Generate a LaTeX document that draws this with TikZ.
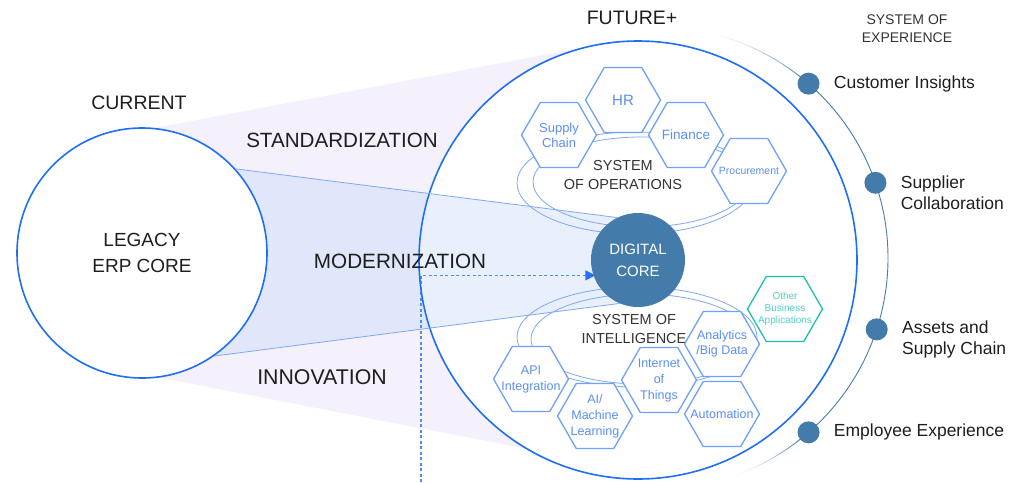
\documentclass[tikz,border=0pt]{standalone}
\usepackage{fontspec}
\setmainfont{Liberation Sans}
\usetikzlibrary{shapes.geometric,positioning,arrows.meta,backgrounds,calc}
\definecolor{ringblue}{HTML}{1F6FF5}
\definecolor{lineblue}{HTML}{7EA8F8}
\definecolor{hexblue}{HTML}{6FA1FA}
\definecolor{hextext}{HTML}{5B8EF3}
\definecolor{tealline}{HTML}{1FBFAE}
\definecolor{tealtext}{HTML}{4FD2C2}
\definecolor{coreblue}{HTML}{437BAA}
\definecolor{arcblue}{HTML}{4A7AA6}
\definecolor{lavender}{HTML}{F4F0FC}
\definecolor{bandblue}{HTML}{C6DAFA}
\definecolor{dashblue}{HTML}{4F8BF3}
\definecolor{tipblue}{HTML}{2A6FF2}
\definecolor{inkblack}{HTML}{1E1E1E}
\definecolor{inkgray}{HTML}{333333}
\tikzset{
  bigring/.style={circle,draw=ringblue,line width=1.6pt,inner sep=0pt},
  hexa/.style={regular polygon,regular polygon sides=6,minimum size=75pt,inner sep=0pt,draw=hexblue,fill=white,line width=1.3pt},
  hexlabel/.style={text=hextext,align=center,inner sep=0pt},
  ring/.style={draw=lineblue,line width=0.8pt},
  bandline/.style={draw=lineblue,line width=0.8pt},
  exparc/.style={draw=arcblue,line width=0.9pt},
  expdot/.style={circle,fill=coreblue,minimum size=22pt,inner sep=0pt},
  explabel/.style={text=inkblack,align=left,inner sep=0pt,font=\fontsize{17.5}{21}\selectfont},
  phase/.style={text=inkblack,align=center,font=\fontsize{19.5}{26}\selectfont},
  sys/.style={text=inkgray,align=center,font=\fontsize{14.5}{18.5}\selectfont},
  dashline/.style={draw=dashblue,line width=1.3pt,dash pattern=on 3pt off 2.5pt,-{Triangle[length=10pt,width=10pt,color=tipblue]},shorten >=-2pt}
}
\begin{document}
\begin{tikzpicture}[x=1pt,y=-1pt]
\useasboundingbox (0,0) rectangle (1025,482);
\coordinate (expc) at (657,258);
\coordinate (dashfoot) at (421,482);
\node[bigring,minimum size=438pt] (future) at (638,260) {};
\node[bigring,fill=white,minimum size=250pt,phase,font=\fontsize{19}{26}\selectfont] (legacy) at (142,253) {LEGACY\\ERP CORE};
\draw[ring] (635,183) ellipse[x radius=118,y radius=51];
\draw[ring] (641,182) ellipse[x radius=108,y radius=45];
\draw[ring] (637,337) ellipse[x radius=120,y radius=50];
\draw[ring] (641,339) ellipse[x radius=110,y radius=45];
\node[circle,fill=coreblue,minimum size=94pt,inner sep=0pt,text=white,align=center,font=\fontsize{15}{22}\selectfont] (core) at (638,260) {DIGITAL\\CORE};
\draw[bandline] (legacy.42) -- (core.116);
\draw[bandline] (legacy.-55) -- (core.247);
\begin{pgfonlayer}{background}
\fill[lavender] (legacy.84) -- (future.106) -- (future.center) -- (future.-121) -- (legacy.-82) -- cycle;
\fill[white] (future.center) circle[radius=219];
\fill[bandblue,opacity=0.4] (legacy.center) -- (legacy.42) -- (core.116) -- (core.center) -- (core.247) -- (legacy.-55) -- cycle;
\draw[dashline] (dashfoot) |- (core.199);
\end{pgfonlayer}
\node[sys] (sysops) at (623,175) {SYSTEM\\OF OPERATIONS};
\node[sys] (sysint) at (634,329) {SYSTEM OF\\INTELLIGENCE};
\node[sys,font=\fontsize{14}{18}\selectfont] (sysexp) at (907,29) {SYSTEM OF\\EXPERIENCE};
\node[hexa,label={[hexlabel,font=\fontsize{13}{15}\selectfont]center:{Supply\\Chain}}] (supply) at (559,135) {};
\node[hexa,label={[hexlabel,font=\fontsize{15}{18}\selectfont]center:HR}] (hr) at (623,100) {};
\node[hexa,label={[hexlabel,font=\fontsize{13.5}{16}\selectfont]center:Finance}] (finance) at (686,135) {};
\node[hexa,label={[hexlabel,font=\fontsize{10.5}{13}\selectfont]center:Procurement}] (procure) at (749,171) {};
\node[hexa,draw=tealline,label={[hexlabel,text=tealtext,font=\fontsize{10}{12}\selectfont]center:{Other\\Business\\Applications}}] (other) at (785,309) {};
\node[hexa,label={[hexlabel,font=\fontsize{12.5}{15.5}\selectfont]center:{Analytics\\/Big Data}}] (analytics) at (722,344) {};
\node[hexa,label={[hexlabel,font=\fontsize{12.5}{16}\selectfont]center:{Internet\\of\\Things}}] (iot) at (659,380) {};
\node[hexa,label={[hexlabel,font=\fontsize{12.5}{16}\selectfont]center:Automation}] (automation) at (722,414) {};
\node[hexa,label={[hexlabel,font=\fontsize{12.5}{16}\selectfont]center:{API\\Integration}}] (api) at (531,379) {};
\node[hexa,label={[hexlabel,font=\fontsize{12.5}{16}\selectfont]center:{AI/\\Machine\\Learning}}] (ai) at (595,416) {};
\draw[exparc] ($(expc)+(-52:231)$) arc[start angle=-52,end angle=52,radius=231];
\foreach \a [evaluate=\a as \op using ((\a+80)/28)^2] in {-79,...,-53}
  \draw[exparc,opacity=\op] ($(expc)+(\a:231)$) arc[start angle=\a,end angle=\a+1,radius=231];
\foreach \a [evaluate=\a as \op using ((72-\a)/20)^2] in {52,...,71}
  \draw[exparc,opacity=\op] ($(expc)+(\a:231)$) arc[start angle=\a,end angle=\a+1,radius=231];
\foreach \a/\n in {-49/cust,-19/supp,18/asset,49/empl}
  \node[expdot] (\n) at ($(expc)+(\a:231)$) {};
\node[explabel,right=14pt of cust] (custlabel) {Customer Insights};
\node[explabel,right=14pt of supp,yshift=-10pt] (supplabel) {Supplier\\Collaboration};
\node[explabel,right=14pt of asset,yshift=-10pt] (assetlabel) {Assets and\\Supply Chain};
\node[explabel,right=14pt of empl] (empllabel) {Employee Experience};
\node[phase] (current) at (139,103) {CURRENT};
\node[phase] (futurelabel) at (632,18) {FUTURE+};
\node[phase,font=\fontsize{20.6}{26}\selectfont] (standard) at (342,140) {STANDARDIZATION};
\node[phase,font=\fontsize{20.7}{26}\selectfont] (modern) at (400,261) {MODERNIZATION};
\node[phase,font=\fontsize{21.3}{26}\selectfont] (innov) at (322,377) {INNOVATION};
\end{tikzpicture}
\end{document}
